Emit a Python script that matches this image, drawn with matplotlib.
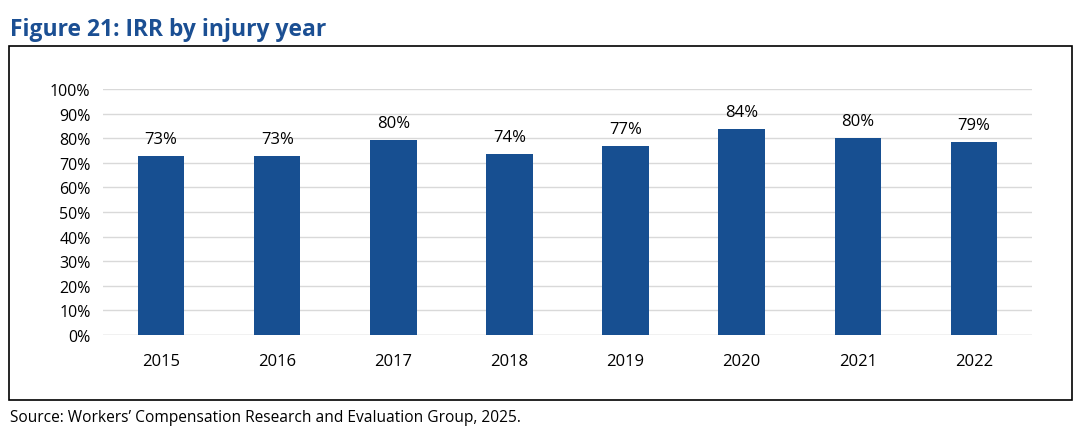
import matplotlib
matplotlib.use("Agg")
import matplotlib.pyplot as plt
from matplotlib.patches import Rectangle

years = ["2015", "2016", "2017", "2018", "2019", "2020", "2021", "2022"]
irr = [0.728, 0.729, 0.794, 0.736, 0.768, 0.837, 0.801, 0.785]
labels = ["73%", "73%", "80%", "74%", "77%", "84%", "80%", "79%"]
yticks = [i / 10 for i in range(11)]
ytick_labels = [f"{i*10}%" for i in range(11)]

plt.rcParams['font.family'] = ['Open Sans', 'DejaVu Sans']

W, H = 1086, 435
fig = plt.figure(figsize=(W / 100, H / 100), dpi=100)

# outer box
fig.patches.append(Rectangle((9 / W, 1 - 401 / H), (1072 - 9) / W, (401 - 47) / H,
                             transform=fig.transFigure, fill=False, edgecolor='black', linewidth=1.2))

ax = fig.add_axes([103 / W, 1 - 336 / H, (1032 - 103) / W, (336 - 90) / H])
x = range(len(years))
ax.bar(x, irr, width=0.4, color='#174f91', zorder=3)
for xi, v, lab in zip(x, irr, labels):
    ax.text(xi, v + 0.035, lab, ha='center', va='bottom', fontsize=12, color='black')

ax.set_ylim(0, 1)
ax.set_xlim(-0.5, len(years) - 0.5)
ax.set_yticks(yticks)
ax.set_yticklabels(ytick_labels, fontsize=11.5)
ax.set_xticks(list(x))
ax.set_xticklabels(years, fontsize=12)
ax.tick_params(axis='both', length=0)
ax.tick_params(axis='x', pad=13)
ax.tick_params(axis='y', pad=9)
ax.grid(axis='y', color='#d9d9d9', linewidth=1, zorder=0)
for s in ax.spines.values():
    s.set_visible(False)
ax.axhline(0, color='#d9d9d9', linewidth=1, zorder=2)

fig.text(10 / W, 1 - 30 / H, "Figure 21: IRR by injury year", fontsize=16.5, fontweight='bold',
         color='#1b4f93', va='center', ha='left')
fig.text(10 / W, 1 - 418 / H, "Source: Workers\u2019 Compensation Research and Evaluation Group, 2025.",
         fontsize=11.2, color='black', va='center', ha='left')

fig.savefig("out.png", dpi=100)
